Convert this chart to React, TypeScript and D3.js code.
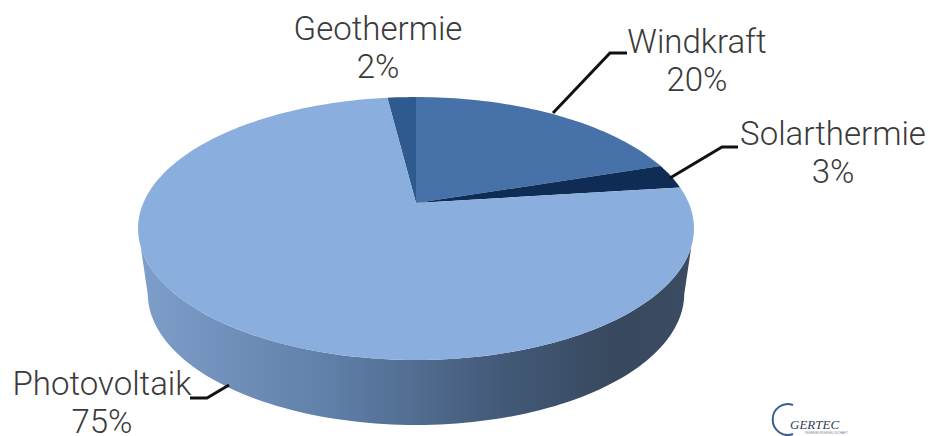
import React from "react";
import * as d3 from "d3";

// Installed-capacity shares by renewable source (percent)
const sources = ["Geothermie", "Windkraft", "Solarthermie", "Photovoltaik"];
const shares = [2, 20, 3, 75];
const sliceColors = ["#2f5a90", "#4672a9", "#0f2c55", "#8aaedd"];

// Label blocks: anchor point (middle of text) and first baseline
const labelX = [378, 697, 833, 102];
const labelY = [40, 53, 145, 395];

// Leader polylines, [x, y] pairs
const leaders: [number, number][][] = [
  [],
  [[553, 113], [610, 53], [627, 53]],
  [[670, 178], [722, 147], [738, 147]],
  [[190, 398], [207, 398], [229, 385]],
];

const W = 928;
const H = 436;
const apex = { x: 416, y: 203 };
const depth = 65;
const persp = 0.194;
const radiusX = 272.7;
const radiusY = 126.5;
const lowerShrink = 0.965;

// Tilted disc: perspective projection of a point on the circle at angle a (0 = up, clockwise)
function rim(a: number): [number, number] {
  const X = Math.sin(a);
  const Y = Math.cos(a);
  const w = 1 + persp * Y;
  return [apex.x + (radiusX * X) / w, apex.y - (radiusY * Y) / w];
}

// The lower face sits further from the eye, so it is a little narrower
function lowerRim(a: number): [number, number] {
  const [x, y] = rim(a);
  return [apex.x + (x - apex.x) * lowerShrink, y + depth];
}

function rimPoints(a0: number, a1: number, f = rim): [number, number][] {
  const n = Math.max(2, Math.ceil(Math.abs(a1 - a0) * 40));
  return d3.range(n + 1).map((i) => f(a0 + ((a1 - a0) * i) / n));
}

const line = d3.line();

export default function App() {
  // The first slice starts just left of twelve o'clock so that Windkraft starts at the top
  const start = -(shares[0] / 100) * 2 * Math.PI;
  const arcs = d3
    .pie<number>()
    .sort(null)
    .startAngle(start)
    .endAngle(start + 2 * Math.PI)(shares);

  // Visible wall runs between the silhouette tangents on the front of the disc
  const upperOffset = 0.33;
  const lowerOffset = 0.2;
  const front = rimPoints(Math.PI / 2 + upperOffset, 1.5 * Math.PI - upperOffset);
  const back = rimPoints(1.5 * Math.PI - lowerOffset, Math.PI / 2 + lowerOffset, lowerRim);
  const wallPath = line([...front, ...back]) + "Z";

  return (
    <svg
      width={W}
      height={H}
      viewBox={`0 0 ${W} ${H}`}
      style={{ position: "absolute", left: 0, top: 0, background: "#fff" }}
    >
      <defs>
        <linearGradient id="wall" gradientUnits="userSpaceOnUse" x1={138} x2={694} y1={0} y2={0}>
          <stop offset="0" stopColor="#7f9fcb" />
          <stop offset="0.35" stopColor="#5f7fa8" />
          <stop offset="0.65" stopColor="#435a78" />
          <stop offset="0.85" stopColor="#38495f" />
          <stop offset="1" stopColor="#3a4b62" />
        </linearGradient>
      </defs>

      <path d={wallPath} fill="url(#wall)" />

      {arcs.map((d, i) => (
        <path
          key={sources[i]}
          d={line([[apex.x, apex.y], ...rimPoints(d.startAngle, d.endAngle)]) + "Z"}
          fill={sliceColors[i]}
        />
      ))}

      {leaders.map((pts, i) =>
        pts.length ? (
          <path key={i} d={line(pts) ?? ""} fill="none" stroke="#111" strokeWidth={3} />
        ) : null,
      )}

      {sources.map((s, i) => (
        <text
          key={s}
          textAnchor="middle"
          fontFamily="Roboto, Lato, sans-serif"
          fontWeight={300}
          fontSize={33}
          fill="#3a3a3a"
        >
          <tspan x={labelX[i]} y={labelY[i]}>{s}</tspan>
          <tspan x={labelX[i]} dy={37.5}>{`${shares[i]}%`}</tspan>
        </text>
      ))}

      {/* Company mark in the lower right corner */}
      <path d="M793 405 A15 15.5 0 1 0 793 434" fill="none" stroke="#3c5f8c" strokeWidth={2} />
      <text x={790} y={429} fontFamily="Liberation Serif, serif" fontStyle="italic" fontSize={13} fill="#2f3f55">
        GERTEC
      </text>
      <text x={805} y={433.5} fontFamily="Liberation Sans, sans-serif" fontSize={3.2} fill="#7a8799">
        INGENIEURGESELLSCHAFT
      </text>
    </svg>
  );
}
